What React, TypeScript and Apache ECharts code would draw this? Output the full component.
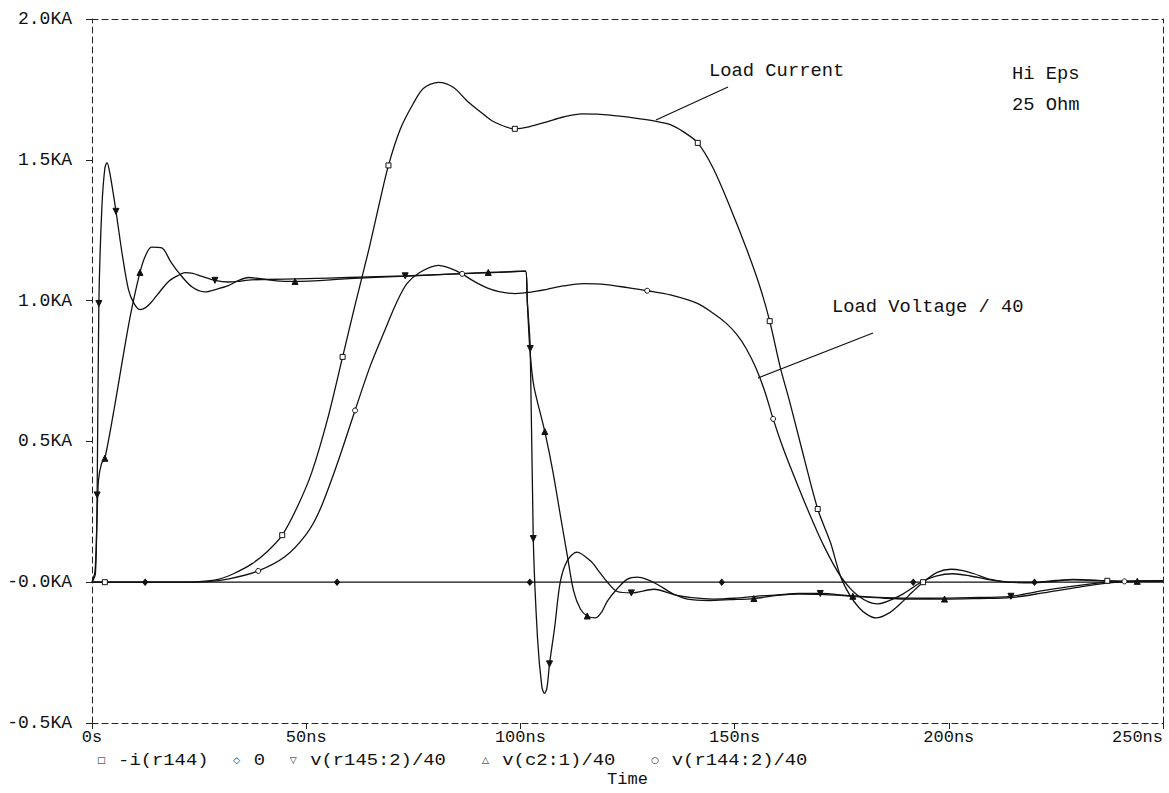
import React, { useEffect, useRef } from "react";
import * as echarts from "echarts";

// ---------- axes ----------
const X_TICKS = [0, 50, 100, 150, 200, 250];
const X_LABELS = ["0s", "50ns", "100ns", "150ns", "200ns", "250ns"];
const Y_TICKS = [-0.5, 0, 0.5, 1.0, 1.5, 2.0];
const Y_LABELS = ["-0.5KA", "-0.0KA", "0.5KA", "1.0KA", "1.5KA", "2.0KA"];

// ---------- series ----------
const SERIES_NAMES = ["-i(r144)", "0", "v(r145:2)/40", "v(c2:1)/40", "v(r144:2)/40"];
const SERIES_GLYPHS = ["\u25A1", "\u25C7", "\u25BD", "\u25B3", "\u25CB"];

// [time (ns), value (KA), marker flag]
type Pt = [number, number, number];

const LOAD_CURRENT: Pt[] = [
  [0, 0, 0], [3, 0, 1], [10, 0, 0], [20, 0, 0], [25, 0.002, 0], [29.4, 0.01, 0], [33, 0.03, 0],
  [37.3, 0.065, 0], [41, 0.11, 0], [44.4, 0.167, 1], [48, 0.27, 0], [51.3, 0.39, 0], [55, 0.58, 0],
  [58.5, 0.8, 1], [61.5, 0.99, 0], [64.6, 1.18, 0], [67, 1.34, 0], [69.2, 1.48, 1], [72, 1.61, 0],
  [75, 1.7, 0], [77.4, 1.754, 0], [80.9, 1.775, 0], [84.4, 1.757, 0], [87.5, 1.71, 0], [90.7, 1.67, 0],
  [93.8, 1.635, 0], [98.7, 1.61, 1], [102, 1.617, 0], [106.2, 1.635, 0], [110, 1.652, 0],
  [114.4, 1.663, 0], [118, 1.662, 0], [121.8, 1.657, 0], [126, 1.65, 0], [131.2, 1.638, 0],
  [135, 1.625, 0], [138, 1.6, 0], [141.4, 1.56, 1], [145, 1.47, 0], [149, 1.33, 0], [153, 1.175, 0],
  [156, 1.045, 0], [158.2, 0.927, 1], [160.7, 0.76, 0], [162.7, 0.65, 0], [165.4, 0.49, 0],
  [169.4, 0.26, 1], [172.4, 0.14, 0], [175, 0.01, 0], [179, -0.09, 0], [183, -0.127, 0],
  [186, -0.11, 0], [188.8, -0.075, 0], [191.5, -0.035, 0], [194, 0, 1], [197.3, 0.035, 0],
  [200.5, 0.046, 0], [203, 0.042, 0], [205.9, 0.03, 0], [209.8, 0.01, 0], [215, 0, 0], [220, 0, 0],
  [225, 0.006, 0], [229, 0.01, 0], [237, 0.005, 1], [243, 0.004, 0], [250, 0.005, 0],
];

const ZERO: Pt[] = [
  [0, 0, 0], [12.4, 0, 1], [57.2, 0, 1], [102.2, 0, 1], [147, 0, 1], [191.7, 0, 1], [220, 0, 1], [250, 0, 0],
];

const V_R145: Pt[] = [
  [0, 0, 0], [0.8, 0.03, 0], [1.2, 0.31, 1], [1.6, 0.99, 1], [2.3, 1.33, 0], [3.0, 1.47, 0],
  [3.5, 1.49, 0], [4.2, 1.45, 0], [5.6, 1.317, 1], [7, 1.17, 0], [8.5, 1.04, 0], [9.8, 0.99, 0],
  [11.2, 0.968, 0], [12.5, 0.975, 0], [13.9, 0.995, 0], [16, 1.035, 0], [18, 1.07, 0], [20.2, 1.09, 0],
  [21.7, 1.099, 0], [23.5, 1.097, 0], [25.5, 1.087, 0], [28.7, 1.072, 1], [31.8, 1.066, 0],
  [34, 1.068, 0], [36.5, 1.073, 0], [40, 1.075, 0], [50, 1.078, 0], [60, 1.082, 0], [73.1, 1.088, 1],
  [85, 1.095, 0], [95, 1.1, 0], [101.2, 1.105, 0], [101.6, 1.0, 0], [102.3, 0.83, 1], [103, 0.155, 1],
  [104, -0.2, 0], [105, -0.37, 0], [105.6, -0.395, 0], [106.2, -0.375, 0], [106.8, -0.29, 1],
  [108, -0.16, 0], [109.3, 0, 0], [110.9, 0.075, 0], [113.2, 0.107, 0], [116.4, 0.075, 0],
  [118.5, 0.035, 0], [120.3, 0, 0], [122.6, -0.033, 0], [125.9, -0.038, 1], [131.2, -0.025, 0],
  [136, -0.045, 0], [140, -0.055, 0], [145, -0.06, 0], [150, -0.057, 0], [155, -0.05, 0],
  [160, -0.045, 0], [165, -0.04, 0], [170, -0.04, 1], [177, -0.048, 0], [185, -0.055, 0],
  [195, -0.057, 0], [205, -0.055, 0], [214.5, -0.05, 1], [222, -0.03, 0], [230, -0.012, 0],
  [237, 0, 0], [245, 0.004, 0], [250, 0.005, 0],
];

const V_C2: Pt[] = [
  [0, 0, 0], [0.7, 0.04, 0], [1.1, 0.19, 0], [1.5, 0.36, 0], [2.2, 0.42, 0], [3.0, 0.44, 1],
  [5, 0.6, 0], [6.9, 0.77, 0], [9, 0.95, 0], [11.2, 1.1, 1], [12.5, 1.16, 0], [13.9, 1.19, 0],
  [16.3, 1.187, 0], [18.3, 1.14, 0], [20.2, 1.1, 0], [23.3, 1.049, 0], [26.4, 1.031, 0], [29, 1.04, 0],
  [31.8, 1.053, 0], [34, 1.07, 0], [36.5, 1.082, 0], [39.6, 1.077, 0], [43, 1.07, 0], [47.4, 1.068, 1],
  [60, 1.078, 0], [75, 1.088, 0], [92.5, 1.1, 1], [101.2, 1.105, 0], [101.6, 1.0, 0], [102.2, 0.83, 0],
  [103.1, 0.7, 0], [105.7, 0.535, 1], [107.5, 0.4, 0], [109.3, 0.24, 0], [111, 0.09, 0],
  [112.4, -0.03, 0], [114, -0.095, 0], [115.6, -0.12, 1], [117.5, -0.127, 0], [119, -0.105, 0],
  [120.3, -0.067, 0], [122.5, -0.025, 0], [124.9, 0.01, 0], [127.3, 0.018, 0], [129.5, 0.01, 0],
  [132, -0.008, 0], [135.5, -0.04, 0], [139, -0.06, 0], [144, -0.065, 0], [149, -0.062, 0],
  [154.5, -0.058, 1], [160, -0.047, 0], [165, -0.042, 0], [170, -0.043, 0], [177.6, -0.05, 1],
  [185, -0.057, 0], [192, -0.06, 0], [199, -0.06, 1], [207, -0.058, 0], [214.5, -0.055, 0],
  [222, -0.038, 0], [230, -0.018, 0], [237, -0.003, 0], [244, 0.003, 1], [250, 0.005, 0],
];

const LOAD_VOLTAGE: Pt[] = [
  [0, 0, 0], [10, 0, 0], [20, 0, 0], [27, 0.002, 0], [32, 0.012, 0], [38.8, 0.04, 1], [45, 0.09, 0],
  [50, 0.17, 0], [53, 0.25, 0], [57, 0.41, 0], [61.4, 0.61, 1], [65, 0.77, 0], [68.5, 0.9, 0],
  [71, 0.99, 0], [73.5, 1.06, 0], [76.5, 1.1, 0], [80.9, 1.125, 0], [83.5, 1.115, 0], [86.4, 1.095, 1],
  [89, 1.07, 0], [92.2, 1.045, 0], [95, 1.032, 0], [98.8, 1.025, 0], [102.5, 1.03, 0], [106.2, 1.04, 0],
  [110, 1.052, 0], [114.8, 1.06, 0], [120, 1.057, 0], [125, 1.046, 0], [129.6, 1.035, 1],
  [135, 1.02, 0], [141.3, 0.99, 0], [145, 0.955, 0], [148, 0.92, 0], [150.5, 0.88, 0],
  [152.7, 0.83, 0], [155, 0.76, 0], [157, 0.68, 0], [159, 0.58, 1], [161, 0.49, 0], [163, 0.41, 0],
  [167, 0.26, 0], [170.8, 0.13, 0], [174.8, 0.02, 0], [179, -0.05, 0], [183.3, -0.077, 0],
  [188.8, -0.046, 0], [193.5, 0, 0], [197, 0.022, 0], [201, 0.03, 0], [205, 0.022, 0], [209, 0.01, 0],
  [213.7, 0, 0], [220, -0.002, 0], [229, 0.008, 0], [241, 0.003, 1], [250, 0.005, 0],
];

// ---------- annotation texts ----------
const NOTE_TEXTS = ["Load Current", "Hi Eps", "25 Ohm", "Load Voltage / 40"];

// ---------- layout (positions / styles only) ----------
const FONT = '"Liberation Mono", "DejaVu Sans Mono", monospace';
const INK = "#111";
const NOTE_POS = [
  [709, 71],
  [1012, 74],
  [1012, 105],
  [832, 307],
];
const LEADERS = [
  [728, 87, 656, 120],
  [873, 333, 758, 378],
];
const LEG_X0 = 95.5;
const LEG_CW = 11.3;
const LEG_Y = 760;
const LEG_FS = 16;
const LEG_GAPS = [2, 2, 3, 3];
const MARKERS = [
  { symbol: "rect", size: 5, rotate: 0, fill: "#fff" },
  { symbol: "diamond", size: [5, 6], rotate: 0, fill: INK },
  { symbol: "triangle", size: 6, rotate: 180, fill: INK },
  { symbol: "triangle", size: 6, rotate: 0, fill: INK },
  { symbol: "circle", size: 5, rotate: 0, fill: "#fff" },
];

function labelFor(ticks: number[], labels: string[], v: number): string {
  const i = ticks.findIndex((t) => Math.abs(t - v) < 1e-9);
  return i >= 0 ? labels[i] : "";
}

export default function App() {
  const ref = useRef<HTMLDivElement>(null);

  useEffect(() => {
    if (!ref.current) return;
    const chart = echarts.init(ref.current, undefined, { renderer: "svg" });

    const dashed = { color: "#222", width: 1, type: [6, 4] as any };
    const allSeries = [LOAD_CURRENT, ZERO, V_R145, V_C2, LOAD_VOLTAGE];

    const series = allSeries.map((arr, i) => ({
      name: SERIES_NAMES[i],
      type: "line",
      xAxisIndex: 0,
      yAxisIndex: 0,
      smooth: 0.3,
      symbol: "none",
      showSymbol: true,
      silent: true,
      lineStyle: { color: INK, width: 1.3 },
      itemStyle: { color: INK },
      data: arr.map(([t, v, m]) =>
        m
          ? {
              value: [t, v],
              symbol: MARKERS[i].symbol,
              symbolSize: MARKERS[i].size,
              symbolRotate: MARKERS[i].rotate,
              itemStyle: { color: MARKERS[i].fill, borderColor: INK, borderWidth: 1 },
            }
          : { value: [t, v] }
      ),
    }));

    const graphics: any[] = [];
    NOTE_TEXTS.forEach((txt, i) => {
      graphics.push({
        type: "text",
        x: NOTE_POS[i][0],
        y: NOTE_POS[i][1],
        style: { text: txt, fontFamily: FONT, fontSize: 18.8, fill: INK, align: "left", verticalAlign: "middle" },
      });
    });
    LEADERS.forEach(([x1, y1, x2, y2]) => {
      graphics.push({ type: "line", shape: { x1, y1, x2, y2 }, style: { stroke: INK, lineWidth: 1.2 } });
    });
    const legScale = LEG_CW / (LEG_FS * 0.6);
    let col = 0;
    SERIES_NAMES.forEach((name, i) => {
      graphics.push({
        type: "text",
        x: LEG_X0 + (col + 0.5) * LEG_CW,
        y: LEG_Y,
        style: { text: SERIES_GLYPHS[i], fontFamily: '"DejaVu Sans"', fontSize: 9, fill: INK, align: "center", verticalAlign: "middle" },
      });
      graphics.push({
        type: "text",
        x: LEG_X0 + (col + 2) * LEG_CW,
        y: LEG_Y,
        scaleX: legScale,
        style: { text: name, fontFamily: FONT, fontSize: LEG_FS, fill: INK, align: "left", verticalAlign: "middle" },
      });
      col += 2 + name.length + (LEG_GAPS[i] ?? 0);
    });

    chart.setOption({
      animation: false,
      backgroundColor: "#fff",
      grid: { left: 92, right: 6, top: 19, bottom: 69, containLabel: false },
      xAxis: [
        {
          type: "value",
          min: X_TICKS[0],
          max: X_TICKS[X_TICKS.length - 1],
          interval: 50,
          position: "bottom",
          name: "Time",
          nameLocation: "middle",
          nameGap: 48,
          nameTextStyle: { fontFamily: FONT, fontSize: 17, color: INK },
          axisLine: { show: true, onZero: false, lineStyle: dashed },
          axisTick: { show: true, length: 6, lineStyle: { color: "#222", width: 1 } },
          axisLabel: {
            show: true,
            margin: 6,
            fontFamily: FONT,
            fontSize: 17,
            color: INK,
            alignMaxLabel: "right",
            formatter: (v: number) => labelFor(X_TICKS, X_LABELS, v),
          },
          splitLine: { show: false },
        },
        {
          type: "value",
          min: X_TICKS[0],
          max: X_TICKS[X_TICKS.length - 1],
          interval: 50,
          position: "top",
          axisLine: { show: true, onZero: false, lineStyle: dashed },
          axisTick: { show: false },
          axisLabel: { show: false },
          splitLine: { show: false },
        },
      ],
      yAxis: [
        {
          type: "value",
          min: Y_TICKS[0],
          max: Y_TICKS[Y_TICKS.length - 1],
          interval: 0.5,
          position: "left",
          axisLine: { show: true, onZero: false, lineStyle: dashed },
          axisTick: { show: true, length: 6, lineStyle: { color: "#222", width: 1 } },
          axisLabel: {
            show: true,
            margin: 20,
            fontFamily: FONT,
            fontSize: 18,
            color: INK,
            formatter: (v: number) => labelFor(Y_TICKS, Y_LABELS, v),
          },
          splitLine: { show: false },
        },
        {
          type: "value",
          min: Y_TICKS[0],
          max: Y_TICKS[Y_TICKS.length - 1],
          interval: 0.5,
          position: "right",
          axisLine: { show: true, onZero: false, lineStyle: dashed },
          axisTick: { show: false },
          axisLabel: { show: false },
          splitLine: { show: false },
        },
      ],
      series,
      graphic: graphics,
    });

    return () => chart.dispose();
  }, []);

  return (
    <div
      ref={ref}
      style={{ position: "absolute", left: 0, top: 0, width: 1169, height: 793, background: "#fff" }}
    />
  );
}
